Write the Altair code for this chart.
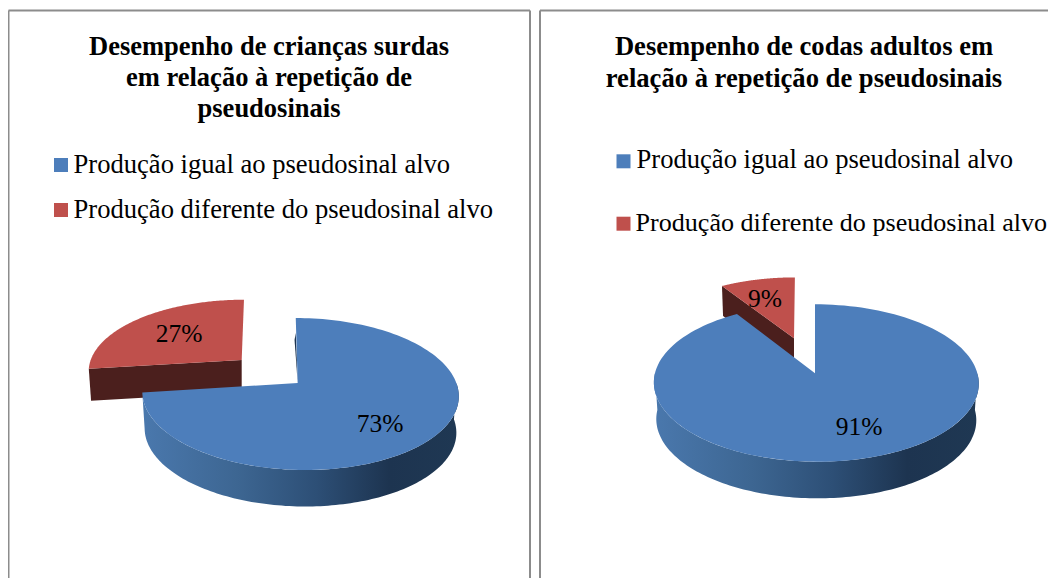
import math
import altair as alt
import pandas as pd

# ---- chart content -------------------------------------------------------
titles_left = ["Desempenho de crianças surdas", "em relação à repetição de", "pseudosinais"]
titles_right = ["Desempenho de codas adultos em", "relação à repetição de pseudosinais"]
categories = ["Produção igual ao pseudosinal alvo", "Produção diferente do pseudosinal alvo"]
values_left = [73, 27]
values_right = [91, 9]

BLUE = "#4d7ebb"
RED = "#bf504c"
DARK_RED = "#4b1f1d"
BORDER = "#8c8c8c"
FONT = "Liberation Serif"

X_SCALE = alt.Scale(domain=[8, 1048], nice=False, zero=False)
Y_SCALE = alt.Scale(domain=[578, 8], nice=False, zero=False)


def project(theta_deg, g):
    t = math.radians(theta_deg)
    X, Z = math.sin(t), math.cos(t)
    d = 1 + g["k"] * Z
    return (g["vx"] + g["ax"] + (g["f"] * X + g["sh"] * Z) / d, g["vy"] - g["g"] * Z / d)


def lower(p, g):
    return (g["vx"] + (p[0] - g["vx"]) * 0.985, p[1] + g["depth"])


def arc(a, b, g, n=140):
    return [project(a + (b - a) * i / n, g) for i in range(n + 1)]


def polygon(points, fill):
    df = pd.DataFrame({"x": [p[0] for p in points] + [points[0][0]],
                       "y": [p[1] for p in points] + [points[0][1]]})
    df["i"] = range(len(df))
    return alt.Chart(df).mark_line(fill=fill, stroke=None, strokeWidth=0, interpolate="linear").encode(
        x=alt.X("x:Q", scale=X_SCALE, axis=None),
        y=alt.Y("y:Q", scale=Y_SCALE, axis=None),
        order="i:Q",
    )


SIDE = alt.Gradient(
    gradient="linear", x1=0, y1=0, x2=1, y2=0,
    stops=[
        alt.GradientStop(offset=0, color="#4a78ad"),
        alt.GradientStop(offset=0.3, color="#3d6692"),
        alt.GradientStop(offset=0.55, color="#2d4f76"),
        alt.GradientStop(offset=0.78, color="#1d3450"),
        alt.GradientStop(offset=1, color="#1f3853"),
    ],
)


def pie(values, main, exploded):
    split = 360 * values[0] / 100
    layers = []
    tip = project(split, exploded)
    v = (exploded["vx"], exploded["vy"])
    layers.append(polygon([v, tip, lower(tip, exploded), lower(v, exploded)], DARK_RED))
    layers.append(polygon([v] + arc(split, 360, exploded), RED))
    rim = arc(90, min(split, 270), main)
    layers.append(polygon(rim + [lower(p, main) for p in reversed(rim)], SIDE))
    v = (main["vx"], main["vy"])
    top = project(0, main)
    if main.get("sliver"):
        layers.append(polygon([v, (top[0], top[1] + 15), (top[0] - 1.2, top[1] + 22)], "#1d3450"))
    layers.append(polygon([v] + arc(0, split, main), BLUE))
    return layers


left_main = dict(vx=297.7, vy=383, f=156.5, g=74.4, k=0.1447, ax=2.15, sh=-4.7, depth=36.5, sliver=True)
left_red = dict(vx=241.7, vy=360, f=151, g=69, k=0.1447, ax=0, sh=2.6, depth=32)
right_main = dict(vx=815, vy=373.3, f=161.2, g=77.5, k=0.1233, ax=1.15, sh=-1.3, depth=36.6)
right_red = dict(vx=794, vy=338.3, f=150, g=68.4, k=0.1233, ax=0, sh=1, depth=30)

border_df = pd.DataFrame({
    "x": [8.5, 530, 8.5, 540, 540],
    "x2": [8.5, 530, 530, 540, 1048],
    "y": [10.5, 10.5, 10.5, 10.5, 10.5],
    "y2": [578, 578, 10.5, 578, 10.5],
})
borders = alt.Chart(border_df).mark_rule(color=BORDER, strokeWidth=2).encode(
    x=alt.X("x:Q", scale=X_SCALE, axis=None), x2="x2:Q",
    y=alt.Y("y:Q", scale=Y_SCALE, axis=None), y2="y2:Q",
)


def text_layer(rows, size, weight="normal", align="center", baseline="alphabetic"):
    return alt.Chart(pd.DataFrame(rows)).mark_text(
        font=FONT, fontSize=size, fontWeight=weight, align=align, baseline=baseline, color="black"
    ).encode(
        x=alt.X("x:Q", scale=X_SCALE, axis=None),
        y=alt.Y("y:Q", scale=Y_SCALE, axis=None),
        text="t:N",
    )


title_left_rows = [{"t": t, "x": 269, "y": y} for t, y in zip(titles_left, [55, 86, 116.7])]
title_right_rows = [{"t": t, "x": 804, "y": y} for t, y in zip(titles_right, [55, 87])]
legend_rows = [
    {"t": categories[0], "x": 73.5, "y": 172.7},
    {"t": categories[1], "x": 73.5, "y": 218},
    {"t": categories[0], "x": 636.5, "y": 168.3},
]
legend_clip_rows = [{"t": categories[1], "x": 635.5, "y": 230.7}]
label_rows = [
    {"t": f"{values_left[0]}%", "x": 380, "y": 424},
    {"t": f"{values_left[1]}%", "x": 179, "y": 334},
    {"t": f"{values_right[0]}%", "x": 859, "y": 427},
    {"t": f"{values_right[1]}%", "x": 765, "y": 299},
]
swatch_df = pd.DataFrame({
    "x": [61, 61, 623.5, 623.5],
    "y": [165, 210, 161.3, 223.7],
    "c": [BLUE, RED, BLUE, RED],
})
swatches = alt.Chart(swatch_df).mark_point(shape="square", filled=True, size=196, opacity=1).encode(
    x=alt.X("x:Q", scale=X_SCALE, axis=None),
    y=alt.Y("y:Q", scale=Y_SCALE, axis=None),
    color=alt.Color("c:N", scale=None, legend=None),
)

layers = [borders]
layers += pie(values_left, left_main, left_red)
layers += pie(values_right, right_main, right_red)
layers += [
    swatches,
    text_layer(title_left_rows, 26.5, "bold"),
    text_layer(title_right_rows, 26.6, "bold"),
    text_layer(legend_rows, 26.6, align="left"),
    text_layer(legend_clip_rows, 26.1, align="left"),
    text_layer(label_rows, 25.5, baseline="middle"),
]

chart = alt.layer(*layers).properties(
    width=1040, height=570, padding=0, background="white",
    autosize=alt.AutoSizeParams(type="none"),
).configure_view(stroke=None)

chart.save("out.html", embed_options={"renderer": "svg", "actions": False})
